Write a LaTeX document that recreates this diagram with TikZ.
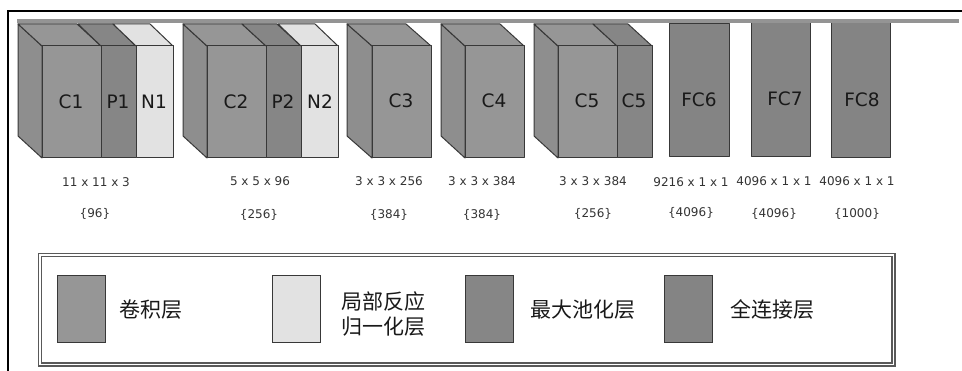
\documentclass[tikz,border=0pt]{standalone}
\usepackage{fontspec}
\setmainfont{DejaVu Sans}
\newfontfamily\cjkfont{Noto Sans CJK SC}[Scale=1]
\definecolor{convc}{HTML}{969696}
\definecolor{convs}{HTML}{8E8E8E}
\definecolor{poolc}{HTML}{868686}
\definecolor{lrnc}{HTML}{E2E2E2}
\definecolor{fcc}{HTML}{848484}
\definecolor{edgec}{HTML}{383838}
\tikzset{
  face/.style={draw=edgec,line width=1pt,line join=round},
  swatch/.style={draw=edgec,line width=1pt},
  big/.style={inner sep=0pt,font=\fontsize{18.5}{20}\selectfont,text=black!90},
  small/.style={inner sep=0pt,font=\fontsize{12}{14}\selectfont,text=black!80},
  legendtext/.style={inner sep=0pt,align=center,font=\cjkfont\fontsize{21}{25}\selectfont,text=black!90},
}
% slab: back-x, front-left-x, front-right-x, colour
\newcommand{\slabtop}[4]{\fill[#4,face] (#1,24) -- (#1+#3-#2,24) -- (#3,46) -- (#2,46) -- cycle;
  \fill[#4,face] (#2,46) rectangle (#3,158);}
\newcommand{\slabside}[2]{\fill[convs,face] (#1,24) -- (#2,46) -- (#2,158) -- (#1,136) -- cycle;}
\begin{document}
\begin{tikzpicture}[x=1pt,y=-1pt]
\useasboundingbox (0,0) rectangle (962,371);
% frame
\draw[black,line width=2.7pt] (8,371) -- (8,11) -- (962,11);
% group 1
\slabside{18}{42}
\slabtop{18}{42}{101}{convc}
\slabtop{78}{101}{136}{poolc}
\slabtop{113}{136}{173}{lrnc}
% group 2
\slabside{183}{207}
\slabtop{183}{207}{266}{convc}
\slabtop{242}{266}{301}{poolc}
\slabtop{278}{301}{338}{lrnc}
% group 3, 4
\slabside{347}{372}
\slabtop{347}{372}{431}{convc}
\slabside{441}{465}
\slabtop{441}{465}{524}{convc}
% group 5
\slabside{534}{558}
\slabtop{534}{558}{617}{convc}
\slabtop{593}{617}{652}{poolc}
% FC
\fill[fcc,face] (669.5,24) rectangle (729,157);
\fill[fcc,face] (751.5,22) rectangle (810,157);
\fill[fcc,face] (831,22) rectangle (890,158);
% top bar
\fill[black!42] (17,19) rectangle (959,23.5);
% block labels
\node[big] (c1) at (71,102) {C1};
\node[big] (p1) at (118,102) {P1};
\node[big] (n1) at (154,102) {N1};
\node[big] (c2) at (236,102) {C2};
\node[big] (p2) at (283,102) {P2};
\node[big] (n2) at (320,102) {N2};
\node[big] (c3) at (401,101) {C3};
\node[big] (c4) at (494,101) {C4};
\node[big] (c5) at (587,101) {C5};
\node[big] (c5b) at (634,101) {C5};
\node[big] (fc6) at (699,100) {FC6};
\node[big] (fc7) at (785,99) {FC7};
\node[big] (fc8) at (862,100) {FC8};
% dimensions
\node[small] (d1) at (96,182) {11 x 11 x 3};
\node[small] (d2) at (260,181) {5 x 5 x 96};
\node[small] (d3) at (389,181) {3 x 3 x 256};
\node[small] (d4) at (482,181) {3 x 3 x 384};
\node[small] (d5) at (593,181) {3 x 3 x 384};
\node[small] (d6) at (691,182) {9216 x 1 x 1};
\node[small] (d7) at (774,181) {4096 x 1 x 1};
\node[small] (d8) at (857,181) {4096 x 1 x 1};
% filters
\node[small] (f1) at (95,214) {\{96\}};
\node[small] (f2) at (259,215) {\{256\}};
\node[small] (f3) at (389,215) {\{384\}};
\node[small] (f4) at (482,215) {\{384\}};
\node[small] (f5) at (593,214) {\{256\}};
\node[small] (f6) at (691,213) {\{4096\}};
\node[small] (f7) at (774,214) {\{4096\}};
\node[small] (f8) at (857,214) {\{1000\}};
% legend
\draw[black!65,line width=1.4pt] (38.5,253.5) rectangle (895,366);
\draw[black!65,line width=1.2pt] (41.5,256.5) rectangle (892,363);
\fill[convc,swatch] (57,276) rectangle (105,343);
\fill[lrnc,swatch] (272,276) rectangle (320,343);
\fill[poolc,swatch] (465,276) rectangle (513,343);
\fill[fcc,swatch] (664,276) rectangle (712,343);
\node[legendtext] (l1) at (151,310) {卷积层};
\node[legendtext] (l2) at (383,314.5) {局部反应\\归一化层};
\node[legendtext] (l3) at (583,310) {最大池化层};
\node[legendtext] (l4) at (772,310) {全连接层};
\end{tikzpicture}
\end{document}
